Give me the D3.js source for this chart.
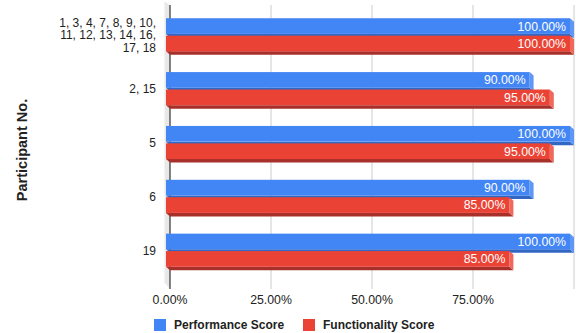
<!DOCTYPE html>
<html>
<head>
<meta charset="utf-8">
<script src="https://cdn.jsdelivr.net/npm/d3@7"></script>
<style>
  html, body { margin: 0; padding: 0; background: #fff; }
  svg { display: block; font-family: "Liberation Sans", Arial, sans-serif; }
</style>
</head>
<body>
<svg id="chart" width="576" height="333"></svg>
<script>
// Participant groups (labels may wrap onto several lines)
const categories = [
  ["1, 3, 4, 7, 8, 9, 10,", "11, 12, 13, 14, 16,", "17, 18"],
  ["2, 15"],
  ["5"],
  ["6"],
  ["19"]
];
const seriesNames = ["Performance Score", "Functionality Score"];
const performance = [1.00, 0.90, 1.00, 0.90, 1.00];
const functionality = [1.00, 0.95, 0.95, 0.85, 0.85];
const xTicks = [0, 0.25, 0.5, 0.75, 1];
const xTickLabels = ["0.00%", "25.00%", "50.00%", "75.00%", ""];

const colors = {
  "Performance Score": { front: "#4285f4", side: "#5e97f6", bottom: "#3367c4" },
  "Functionality Score": { front: "#ea4335", side: "#f0675c", bottom: "#a8302a" }
};

const svg = d3.select("#chart");
const depthX = 4, depthY = 3.5;          // offset from front plane to back plane
const catKeys = categories.map((c, i) => i);

// back plane x scale (gridlines, axis), front plane = back - depth
const xBack = d3.scaleLinear().domain([0, 1]).range([170, 574]);
const xFront = v => xBack(v) - depthX;

const yBand = d3.scaleBand().domain(catKeys).range([8, 277])
  .paddingInner(0.385).paddingOuter(0.19);
const ySub = d3.scaleBand().domain(seriesNames).range([0, yBand.bandwidth()])
  .paddingInner(0.1);

const backTop = 5, backBottom = 289;

// left wall
svg.append("path")
  .attr("d", `M${xFront(0) - 1.5},${backTop - depthY} L${xBack(0)},${backTop} L${xBack(0)},${backBottom} L${xFront(0) - 1.5},${backBottom - depthY - 3} Z`)
  .attr("fill", "#e8e8e8");

// vertical gridlines on back plane
svg.append("g").selectAll("line").data(xTicks.slice(1)).join("line")
  .attr("x1", d => xBack(d)).attr("x2", d => xBack(d))
  .attr("y1", backTop).attr("y2", backBottom)
  .attr("stroke", "#cccccc").attr("stroke-width", 1);

// baseline axis
svg.append("line")
  .attr("x1", xBack(0)).attr("x2", xBack(0))
  .attr("y1", backTop).attr("y2", backBottom)
  .attr("stroke", "#333333").attr("stroke-width", 1.2);

// x tick labels
svg.append("g").selectAll("text").data(xTicks).join("text")
  .attr("x", d => xBack(d)).attr("y", 304)
  .attr("text-anchor", "middle")
  .attr("font-size", 12.3).attr("fill", "#222")
  .text((d, i) => xTickLabels[i]);

// bars
const rows = [];
catKeys.forEach(i => {
  rows.push({ cat: i, series: "Performance Score", value: performance[i] });
  rows.push({ cat: i, series: "Functionality Score", value: functionality[i] });
});

const barG = svg.append("g");
rows.forEach(r => {
  const c = colors[r.series];
  const x0 = xFront(0), x1 = xFront(r.value);
  const y0 = yBand(r.cat) + ySub(r.series);
  const h = ySub.bandwidth();
  const g = barG.append("g");
  // bottom face
  g.append("path")
    .attr("d", `M${x0},${y0 + h} L${x1},${y0 + h} L${x1 + depthX},${y0 + h + depthY} L${x0 + depthX},${y0 + h + depthY} Z`)
    .attr("fill", c.bottom);
  // right face
  g.append("path")
    .attr("d", `M${x1},${y0} L${x1 + depthX},${y0 + depthY} L${x1 + depthX},${y0 + h + depthY} L${x1},${y0 + h} Z`)
    .attr("fill", c.side);
  // front face
  g.append("rect")
    .attr("x", x0).attr("y", y0)
    .attr("width", x1 - x0).attr("height", h)
    .attr("fill", c.front);
  // value label
  g.append("text")
    .attr("x", x1 - 4).attr("y", y0 + h / 2)
    .attr("dy", "0.36em")
    .attr("text-anchor", "end")
    .attr("font-size", 12.3).attr("fill", "#ffffff")
    .text(d3.format(".2%")(r.value));
});

// category labels
const catG = svg.append("g");
categories.forEach((lines, i) => {
  const cy = yBand(i) + yBand.bandwidth() / 2;
  const lh = 12.5;
  const t = catG.append("text")
    .attr("text-anchor", "end")
    .attr("font-size", 12).attr("fill", "#222");
  lines.forEach((ln, k) => {
    t.append("tspan")
      .attr("x", 156)
      .attr("y", cy + (k - (lines.length - 1) / 2) * lh)
      .attr("dy", "0.36em")
      .text(ln);
  });
});

// y axis title
svg.append("text")
  .attr("transform", "translate(22,150) rotate(-90)")
  .attr("text-anchor", "middle")
  .attr("dy", "0.36em")
  .attr("font-size", 14.5).attr("font-weight", "bold").attr("fill", "#222")
  .text("Participant No.");

// legend
const legendX = [154, 303];
seriesNames.forEach((s, i) => {
  const g = svg.append("g").attr("transform", `translate(${legendX[i]},319)`);
  g.append("rect").attr("width", 12).attr("height", 12).attr("fill", colors[s].front);
  g.append("text").attr("x", 20).attr("y", 6).attr("dy", "0.36em")
    .attr("font-size", 12).attr("font-weight", "bold").attr("fill", "#222")
    .text(s);
});
</script>
</body>
</html>
